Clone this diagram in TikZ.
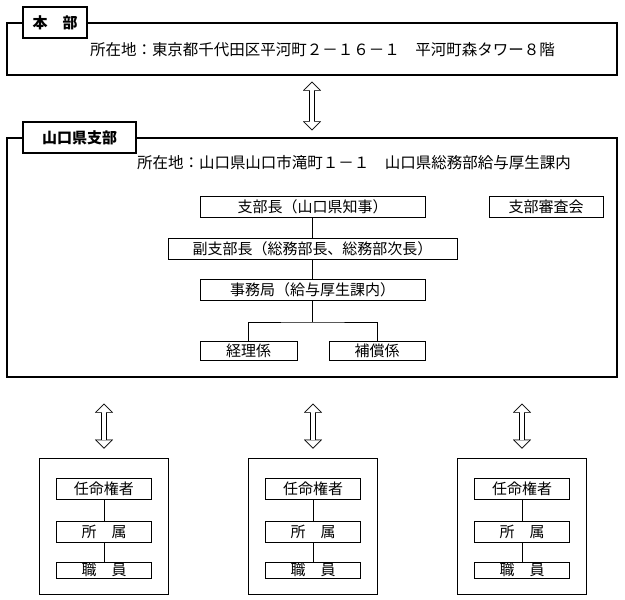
\documentclass[tikz,border=0pt]{standalone}
\usepackage{fontspec}
\setmainfont{Noto Sans CJK JP}
\usetikzlibrary{positioning,arrows.meta}

\tikzset{
  bigbox/.style={draw, line width=1.4pt, inner sep=0pt},
  tagbox/.style={draw, line width=1.4pt, fill=white, inner sep=0pt,
    font=\bfseries\fontsize{15}{18}\selectfont},
  addrtext/.style={inner sep=0pt, font=\fontsize{15.5}{18}\selectfont},
  postbox/.style={draw, line width=0.8pt, inner sep=0pt, minimum height=21pt,
    font=\fontsize{15}{18}\selectfont},
  unitframe/.style={draw, line width=0.9pt, minimum width=129pt, minimum height=136pt},
  unitbox/.style={postbox, minimum width=95pt},
  tieline/.style={line width=0.8pt},
  headout/.tip={Triangle[length=9pt, width=18pt, line width=0.01pt]},
  headin/.tip={Triangle[length=7.07pt, width=14.1pt, line width=0.01pt]},
  dblarrow/.style={draw=white, line width=4.6pt, shorten <=1.13pt, shorten >=1.13pt,
    headin-headin,
    preaction={draw=black, line width=6.2pt, shorten <=0pt, shorten >=0pt, headout-headout}},
}

\begin{document}
\begin{tikzpicture}[x=1pt, y=-1pt]
  % Canvas
  \useasboundingbox (0,0) rectangle (625,600);

  % Headquarters
  \node[bigbox, minimum width=610pt, minimum height=52pt] (hq) at (312,49) {};
  \node[tagbox, minimum width=64pt, minimum height=31pt] (hqtag) at (55,22.5) {本　部};
  \node[addrtext] (hqaddr) at (322.5,50) {所在地：東京都千代田区平河町２－１６－１　平河町森タワー８階};

  % Yamaguchi branch
  \node[bigbox, minimum width=610pt, minimum height=239pt] (br) at (312,257.5) {};
  \node[tagbox, minimum width=113pt, minimum height=31pt] (brtag) at (79.5,137.5) {山口県支部};
  \node[addrtext] (braddr) at (354,163) {所在地：山口県山口市滝町１－１　山口県総務部給与厚生課内};

  \draw[dblarrow] ([yshift=-6pt]hq.south) -- ([yshift=7pt]br.north);

  % Branch organisation
  \node[postbox, minimum width=225pt] (chief) at (312.5,207) {支部長（山口県知事）};
  \node[postbox, minimum width=114pt] (review) at (546,206.5) {支部審査会};
  \node[postbox, minimum width=289pt] (deputy) at (312.5,248.5) {副支部長（総務部長、総務部次長）};
  \node[postbox, minimum width=225pt] (office) at (312.5,290) {事務局（給与厚生課内）};
  \node[postbox, minimum width=97pt, minimum height=19pt] (keiri) at (248.5,351) {経理係};
  \node[postbox, minimum width=96pt, minimum height=19pt] (hosho) at (377,351) {補償係};
  \coordinate (fork) at (312.5,322);

  \draw[tieline] (chief) -- (deputy);
  \draw[tieline] (deputy) -- (office);
  \draw[tieline] (office) -- (fork);
  \draw[tieline] (keiri.north) |- (fork) -| (hosho.north);

  % Appointing units
  \foreach \i/\cx in {1/104, 2/313, 3/522} {
    \node[unitframe] (u\i) at (\cx,526) {};
    \node[unitbox] (nin\i) at (\cx,488.5) {任命権者};
    \node[unitbox] (sho\i) at (\cx,531.5) {所　属};
    \node[unitbox, minimum height=16pt] (staff\i) at (\cx,570) {職　員};
    \draw[tieline] (nin\i) -- (sho\i);
    \draw[tieline] (sho\i) -- (staff\i);
    \path (br.south -| u\i.north) coordinate (link\i);
    \draw[dblarrow] ([yshift=-26pt]link\i) -- ([yshift=9pt]u\i.north);
  }
\end{tikzpicture}
\end{document}
